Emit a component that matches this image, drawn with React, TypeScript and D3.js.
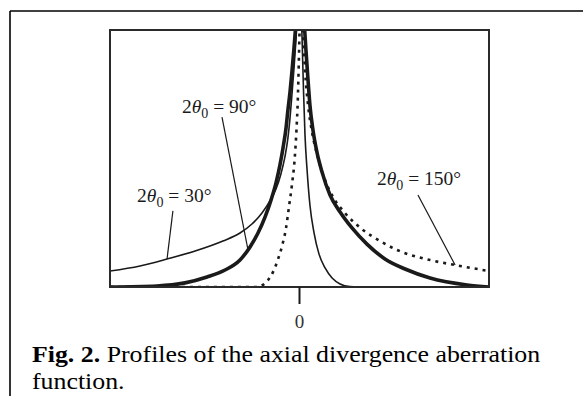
import React from "react";
import * as d3 from "d3";

// Relative offset from the peak position (-1 … 1) and normalised intensity.
const thin30X = [-1, -0.842, -0.699, -0.551, -0.404, -0.314, -0.251, -0.198, -0.156, -0.124, -0.098, -0.077, -0.061, -0.05, -0.04, -0.029, -0.018, -0.008, 0.003, 0.013, 0.021, 0.029, 0.04, 0.055, 0.077, 0.103, 0.135, 0.172, 0.214, 0.266, 0.346, 1];
const thin30Y = [0.062, 0.082, 0.109, 0.14, 0.179, 0.21, 0.245, 0.288, 0.335, 0.381, 0.44, 0.506, 0.58, 0.658, 0.747, 0.852, 0.969, 1.097, 1.156, 0.981, 0.767, 0.591, 0.455, 0.319, 0.21, 0.128, 0.074, 0.035, 0.012, 0.002, 0, 0];

const thick90X = [-1, -0.752, -0.604, -0.488, -0.393, -0.314, -0.261, -0.219, -0.182, -0.15, -0.124, -0.103, -0.087, -0.071, -0.061, -0.05, -0.04, -0.029, -0.018, -0.008, 0.003, 0.013, 0.024, 0.034, 0.045, 0.055, 0.071, 0.092, 0.119, 0.161, 0.214, 0.277, 0.356, 0.451, 0.557, 0.689, 0.884, 1];
const thick90Y = [0, 0.004, 0.016, 0.039, 0.066, 0.105, 0.156, 0.21, 0.272, 0.339, 0.405, 0.475, 0.541, 0.619, 0.689, 0.759, 0.837, 0.93, 1.039, 1.175, 1.233, 1.175, 1.039, 0.922, 0.805, 0.708, 0.611, 0.525, 0.447, 0.358, 0.292, 0.23, 0.167, 0.109, 0.07, 0.035, 0.008, 0];

const dot150X = [-1, -0.224, -0.193, -0.166, -0.14, -0.113, -0.092, -0.071, -0.055, -0.04, -0.026, -0.016, -0.009, -0.004, 0.001, 0.006, 0.018, 0.029, 0.045, 0.066, 0.098, 0.135, 0.177, 0.24, 0.335, 0.425, 0.515, 0.689, 0.847, 1];
const dot150Y = [0, 0, 0.008, 0.027, 0.058, 0.109, 0.16, 0.23, 0.315, 0.397, 0.494, 0.611, 0.728, 0.864, 1.019, 1.175, 1.0, 0.844, 0.708, 0.603, 0.502, 0.416, 0.35, 0.288, 0.222, 0.179, 0.144, 0.105, 0.082, 0.062];

const xTicks = [0];
const xTickLabels = ["0"];

// Annotation labels: angle, text anchor (data units), leader start, and x where the leader meets its curve
const labelAngles = ["30°", "90°", "150°"];
const labelX = [-0.857, -0.62, 0.409];
const labelY = [0.331, 0.677, 0.397];
const leaderX0 = [-0.668, -0.409, 0.625];
const leaderY0 = [0.296, 0.661, 0.358];
const leaderX1 = [-0.699, -0.272, 0.821];

const W = 583;
const H = 396;
const plot = { left: 110, right: 489, top: 30, bottom: 287 };

type Pt = { x: number; y: number };
const zip = (xs: number[], ys: number[]): Pt[] => xs.map((x, i) => ({ x, y: ys[i] }));

const series = [
  { pts: zip(thin30X, thin30Y), width: 1.6, dash: undefined as string | undefined },
  { pts: zip(thick90X, thick90Y), width: 3.6, dash: undefined as string | undefined },
  { pts: zip(dot150X, dot150Y), width: 2.6, dash: "3 5" },
];

// value of a series at x (linear between samples)
function valueAt(pts: Pt[], x: number): number {
  for (let i = 1; i < pts.length; i++) {
    if (x <= pts[i].x) {
      const a = pts[i - 1];
      const b = pts[i];
      const t = (x - a.x) / (b.x - a.x);
      return a.y + t * (b.y - a.y);
    }
  }
  return pts[pts.length - 1].y;
}

export default function App() {
  const x = d3.scaleLinear().domain([-1, 1]).range([plot.left, plot.right]);
  const y = d3.scaleLinear().domain([0, 1]).range([plot.bottom, plot.top]);
  const line = d3
    .line<Pt>()
    .x((d) => x(d.x))
    .y((d) => y(d.y))
    .curve(d3.curveMonotoneX);

  const ink = "#1a1a1a";
  const serif = "'Liberation Serif', 'Times New Roman', serif";

  return (
    <svg
      width={W}
      height={H}
      style={{ position: "absolute", left: 0, top: 0, background: "#fff" }}
    >
      {/* frame */}
      <line x1={10} y1={11} x2={W} y2={11} stroke="#000" strokeWidth={1.6} />
      <line x1={10} y1={11} x2={10} y2={H} stroke="#000" strokeWidth={1.6} />

      <defs>
        <clipPath id="plotClip">
          <rect x={plot.left} y={plot.top} width={plot.right - plot.left} height={plot.bottom - plot.top} />
        </clipPath>
      </defs>

      <g clipPath="url(#plotClip)">
        {series.map((s, i) => (
          <path
            key={i}
            d={line(s.pts) || ""}
            fill="none"
            stroke={ink}
            strokeWidth={s.width}
            strokeDasharray={s.dash}
            strokeLinejoin="round"
          />
        ))}
      </g>

      {/* plot box */}
      <rect
        x={plot.left}
        y={plot.top}
        width={plot.right - plot.left}
        height={plot.bottom - plot.top}
        fill="none"
        stroke="#2a2a2a"
        strokeWidth={2}
      />

      {/* x tick */}
      {xTicks.map((t, i) => (
        <g key={i}>
          <line x1={x(t)} x2={x(t)} y1={plot.bottom} y2={plot.bottom + 17} stroke={ink} strokeWidth={2} />
          <text x={x(t)} y={plot.bottom + 41} textAnchor="middle" fontFamily={serif} fontSize={19} fill="#333">
            {xTickLabels[i]}
          </text>
        </g>
      ))}

      {/* annotations */}
      {labelAngles.map((ang, i) => {
        const s = series[i].pts;
        const ex = leaderX1[i];
        const ey = valueAt(s, ex);
        return (
          <g key={ang}>
            <line
              x1={x(leaderX0[i])}
              y1={y(leaderY0[i])}
              x2={x(ex)}
              y2={y(ey)}
              stroke={ink}
              strokeWidth={1.2}
            />
            <text x={x(labelX[i])} y={y(labelY[i])} fontFamily={serif} fontSize={19.5} fill={ink}>
              <tspan>2</tspan>
              <tspan fontStyle="italic">θ</tspan>
              <tspan fontSize={14} dy={5}>0</tspan>
              <tspan dy={-5}>{" = " + ang}</tspan>
            </text>
          </g>
        );
      })}

      {/* caption, set slightly wide */}
      <g transform="translate(32,0) scale(1.1,1)">
        <text x={0} y={362} fontFamily={serif} fontSize={23.5} fill="#000">
          <tspan fontWeight="bold">Fig. 2.</tspan>
          <tspan> Profiles of the axial divergence aberration</tspan>
        </text>
        <text x={0} y={389} fontFamily={serif} fontSize={23.5} fill="#000">
          function.
        </text>
      </g>
    </svg>
  );
}
